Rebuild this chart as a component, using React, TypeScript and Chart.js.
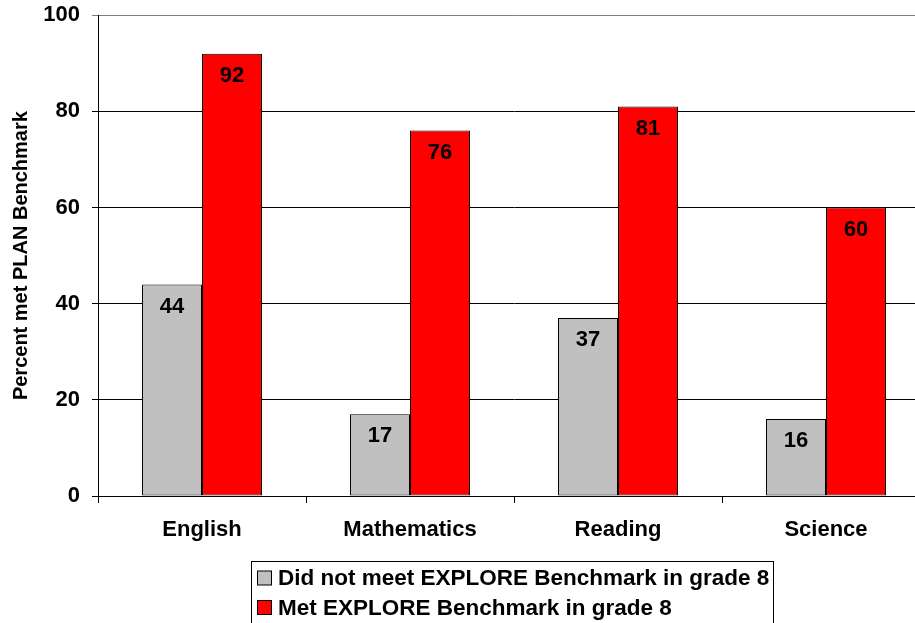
import React, { useEffect, useRef } from "react";
import { Chart, registerables } from "chart.js";

Chart.register(...registerables);

const categories = ["English", "Mathematics", "Reading", "Science"];
const didNotMeet = [44, 17, 37, 16];
const met = [92, 76, 81, 60];
const seriesLabels = [
  "Did not meet EXPLORE Benchmark in grade 8",
  "Met EXPLORE Benchmark in grade 8",
];
const yTicks = [0, 20, 40, 60, 80, 100];
const yTitle = "Percent met PLAN Benchmark";

const FONT = "'Liberation Sans', Arial, sans-serif";
const SHIFT = 10;

const valueLabels = {
  id: "valueLabels",
  afterDatasetsDraw(chart: any) {
    const ctx = chart.ctx;
    ctx.save();
    ctx.font = `bold 22px ${FONT}`;
    ctx.fillStyle = "#000";
    ctx.textAlign = "center";
    ctx.textBaseline = "middle";
    chart.data.datasets.forEach((ds: any, i: number) => {
      const meta = chart.getDatasetMeta(i);
      meta.data.forEach((el: any, j: number) => {
        ctx.fillText(String(ds.data[j]), el.x, el.y + 22);
      });
    });
    ctx.restore();
  },
};

const boxLegend = {
  id: "boxLegend",
  afterDraw(chart: any) {
    const ctx = chart.ctx;
    ctx.save();
    ctx.translate(0, SHIFT);
    ctx.strokeStyle = "#000";
    ctx.lineWidth = 1;
    ctx.strokeRect(251.5, 561.5, 522, 80);
    ctx.font = `bold 22.5px ${FONT}`;
    ctx.textBaseline = "middle";
    ctx.textAlign = "left";
    chart.data.datasets.forEach((ds: any, i: number) => {
      const cy = 578 + i * 29.5;
      ctx.fillStyle = ds.backgroundColor;
      ctx.fillRect(257.5, cy - 7, 14, 14);
      ctx.strokeStyle = "#000";
      ctx.strokeRect(257.5, cy - 7, 14, 14);
      ctx.fillStyle = "#000";
      ctx.fillText(ds.label, 278, cy + 1);
    });
    ctx.restore();
  },
};

export default function App() {
  const ref = useRef<HTMLCanvasElement | null>(null);
  useEffect(() => {
    if (!ref.current) return;
    const chart = new Chart(ref.current, {
      type: "bar",
      data: {
        labels: categories,
        datasets: [
          {
            label: seriesLabels[0],
            data: didNotMeet,
            backgroundColor: "#C0C0C0",
            borderColor: "#000",
            borderWidth: 1,
            borderSkipped: false,
          },
          {
            label: seriesLabels[1],
            data: met,
            backgroundColor: "#FF0000",
            borderColor: "#000",
            borderWidth: 1,
            borderSkipped: false,
          },
        ],
      },
      options: {
        responsive: false,
        animation: false,
        devicePixelRatio: 1,
        datasets: { bar: { categoryPercentage: 0.577, barPercentage: 1 } },
        layout: { padding: { left: 0, top: 4, right: 10, bottom: 0 } },
        plugins: { legend: { display: false }, tooltip: { enabled: false } },
        scales: {
          x: {
            offset: true,
            afterFit(scale: any) {
              scale.height = 127;
            },
            grid: {
              offset: true,
              drawOnChartArea: false,
              drawTicks: true,
              tickLength: 7,
              color: "#000",
            },
            border: { color: "#000", width: 1 },
            ticks: {
              color: "#000",
              padding: 14,
              font: { family: FONT, size: 22, weight: "bold" },
            },
          },
          y: {
            min: 0,
            max: 100,
            afterFit(scale: any) {
              scale.width = 98;
            },
            afterBuildTicks(scale: any) {
              scale.ticks = yTicks.map((v) => ({ value: v }));
            },
            grid: {
              color: (c: any) => (c.tick && c.tick.value === 100 ? "#808080" : "#000"),
              tickLength: 6,
              drawTicks: true,
            },
            border: { color: "#000", width: 1 },
            ticks: {
              color: "#000",
              padding: 12,
              font: { family: FONT, size: 22, weight: "bold" },
            },
            title: {
              display: true,
              text: yTitle,
              color: "#000",
              padding: { top: 9, bottom: 0 },
              font: { family: FONT, size: 20, weight: "bold" },
            },
          },
        },
      },
      plugins: [valueLabels, boxLegend],
    } as any);
    return () => chart.destroy();
  }, []);
  return (
    <div
      style={{
        position: "absolute",
        left: 0,
        top: 0,
        width: 915,
        height: 623,
        overflow: "hidden",
        background: "#fff",
      }}
    >
      <canvas
        ref={ref}
        width={940}
        height={623 + SHIFT}
        style={{ display: "block", position: "absolute", left: 0, top: -SHIFT }}
      />
    </div>
  );
}
